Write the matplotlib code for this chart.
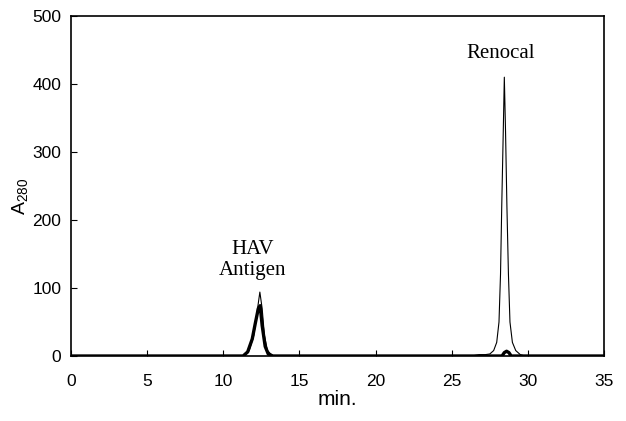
import matplotlib
matplotlib.use("Agg")
import matplotlib.pyplot as plt

plt.rcParams['font.family'] = ['Liberation Sans', 'DejaVu Sans']
plt.rcParams['mathtext.fontset'] = 'custom'
plt.rcParams['mathtext.rm'] = 'Liberation Sans'
plt.rcParams['mathtext.it'] = 'Liberation Sans'

# thin trace
thin_t = [0, 11.4, 11.7, 12.0, 12.2, 12.4, 12.55, 12.7, 12.9, 13.2, 13.5,
          26.3, 26.8, 27.2, 27.5, 27.75, 27.95, 28.1, 28.2, 28.28, 28.38, 28.45,
          28.53, 28.62, 28.72, 28.82, 28.98, 29.2, 29.5, 29.8, 35]
thin_a = [0, 0, 8, 30, 62, 94, 70, 30, 8, 1, 0,
          0, 2, 2, 3, 8, 20, 50, 120, 220, 330, 410,
          330, 220, 120, 50, 20, 8, 2, 0, 0]

# thick trace
thick_t = [0, 11.3, 11.6, 11.9, 12.1, 12.3, 12.42, 12.55, 12.75, 12.95, 13.25,
           28.3, 28.45, 28.6, 28.75, 28.9, 35]
thick_a = [0, 0, 6, 25, 48, 70, 74, 45, 14, 3, 0,
           0, 5, 7, 5, 0, 0]

xticks = [0, 5, 10, 15, 20, 25, 30, 35]
yticks = [0, 100, 200, 300, 400, 500]

fig = plt.figure(figsize=(6.26, 4.21), dpi=100)
ax = fig.add_axes([0.1134, 0.1544, 0.8516, 0.8076])

ax.plot(thin_t, thin_a, color='black', lw=0.8)
ax.plot(thick_t, thick_a, color='black', lw=2.4)

ax.set_xlim(0, 35)
ax.set_ylim(0, 500)
ax.set_xticks(xticks)
ax.set_yticks(yticks)
ax.tick_params(direction='in', length=4, width=0.8, labelsize=12.5)
ax.tick_params(axis='x', pad=13)
ax.tick_params(axis='y', pad=7)
for s in ax.spines.values():
    s.set_linewidth(1.2)

ax.set_xlabel('min.', fontsize=15, labelpad=1)
ax.set_ylabel('A$_{280}$', fontsize=14)
ax.yaxis.set_label_coords(-0.077, 0.47)

ax.text(11.95, 141, 'HAV\nAntigen', family='Liberation Serif', fontsize=15,
        ha='center', va='center', linespacing=1.15)
ax.text(28.2, 445, 'Renocal', family='Liberation Serif', fontsize=15,
        ha='center', va='center')

fig.savefig('out.png', dpi=100)
